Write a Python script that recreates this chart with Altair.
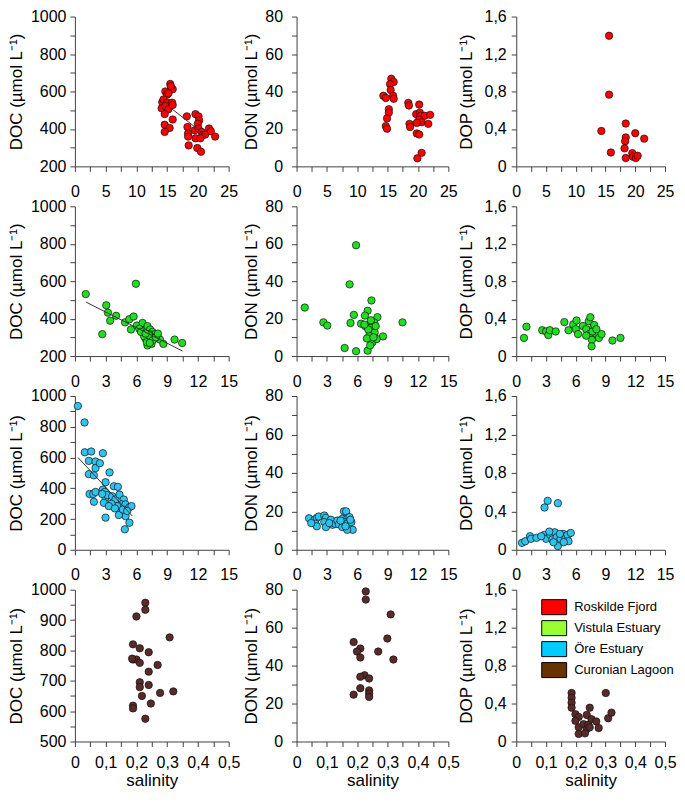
import altair as alt
import pandas as pd

# ---------------- data ----------------
SITES = ["Roskilde Fjord", "Vistula Estuary", "Öre Estuary", "Curonian Lagoon"]
POINT_COLORS = ["#ff0000", "#22dd22", "#2ec4f0", "#5a2a2a"]
LEGEND_COLORS = ["#ff0000", "#99ff33", "#00ccff", "#663300"]

# Roskilde Fjord
rf_doc_sal = [15.5, 15.9, 14.7, 15.0, 14.2, 14.4, 15.0, 15.8, 14.1, 14.7, 15.2, 15.9, 14.6, 15.9, 14.6, 15.4, 14.6, 15.6, 15.2,
              18.2, 19.6, 20.1, 20.2, 20.0, 18.3, 19.5, 20.1, 20.6, 20.8, 21.2, 21.8, 22.1, 22.8, 18.4, 18.4, 18.5, 19.9, 20.5, 19.6, 20.4]
rf_doc = [640, 612, 600, 583, 543, 557, 540, 540, 510, 522, 505, 528, 479, 450, 422, 405, 384, 628, 590,
          467, 479, 467, 445, 428, 410, 393, 402, 384, 367, 370, 402, 388, 359, 376, 359, 312, 298, 278, 350, 350]
rf_fit_sal = [15.3, 21.2]
rf_fit_doc = [519, 367]
rf_don_sal = [15.6, 16.0, 15.4, 15.5, 14.3, 14.7, 15.9, 16.0, 15.2, 15.2, 14.9, 14.7, 14.9, 18.4, 18.5, 20.2, 19.7, 20.3, 20.4, 21.1,
              22.0, 20.2, 20.6, 21.7, 18.6, 18.7, 19.8, 19.8, 20.2, 20.6, 19.9]
rf_don = [46.8, 45.1, 43.9, 40.8, 37.7, 36.5, 37.7, 36.1, 30.5, 28.7, 25.6, 21.5, 20.1, 33.9, 32.5, 33.0, 27.9, 28.7, 27.0, 27.0,
          27.5, 25.0, 23.6, 22.7, 22.7, 21.0, 23.2, 17.6, 17.0, 7.2, 4.3]
rf_dop_sal = [15.6, 15.6, 14.3, 18.4, 20.0, 21.5, 18.4, 18.3, 18.2, 15.9, 19.5, 19.6, 20.1, 20.4, 18.4]
rf_dop = [1.395, 0.766, 0.378, 0.457, 0.354, 0.296, 0.309, 0.268, 0.192, 0.148, 0.141, 0.103, 0.089, 0.113, 0.089]

# Vistula Estuary
ve_doc_sal = [1.06, 5.95, 2.67, 3.06, 3.22, 4.02, 3.44, 4.89, 5.31, 5.73, 5.47, 6.05, 6.60, 6.28, 6.76, 7.08, 7.34, 7.56, 7.79, 8.05,
              8.30, 8.63, 7.08, 7.40, 7.56, 7.79, 6.92, 7.24, 6.76, 9.72, 10.46, 7.02, 7.47, 6.44, 7.2, 7.6, 7.9, 8.1, 7.3, 6.9]
ve_doc = [531, 586, 317, 471, 432, 415, 389, 380, 397, 411, 342, 363, 377, 346, 334, 360, 342, 329, 317, 308,
          288, 265, 257, 277, 300, 294, 291, 317, 305, 288, 270, 274, 265, 329, 312, 285, 300, 320, 270, 320]
ve_fit_sal = [1.1, 10.5]
ve_fit_doc = [488, 227]
ve_don_sal = [0.81, 2.65, 3.04, 5.88, 5.24, 7.40, 5.66, 5.33, 4.75, 5.88, 7.02, 10.47, 8.54, 7.02, 6.76, 7.99, 6.37, 6.79, 7.66, 7.34,
              7.72, 7.18, 7.50, 7.92, 6.95, 7.34, 7.08, 6.70, 7.82, 7.60, 7.27]
ve_don = [25.9, 18.0, 16.3, 59.2, 38.3, 29.7, 22.0, 17.7, 4.3, 2.6, 2.9, 18.0, 10.5, 24.2, 21.6, 20.8, 17.3, 16.0, 18.0, 15.1,
          12.5, 10.8, 7.4, 9.1, 9.4, 19.1, 14.2, 16.8, 16.0, 10.0, 5.7]
ve_dop_sal = [0.78, 1.03, 2.62, 3.01, 3.23, 3.39, 3.98, 4.85, 5.27, 5.75, 6.08, 6.01, 6.23, 6.72, 7.05, 7.31, 7.47, 7.37, 7.76, 8.08,
              7.63, 8.34, 8.60, 7.60, 7.05, 7.69, 7.86, 9.70, 10.51, 8.08]
ve_dop = [0.194, 0.314, 0.276, 0.263, 0.225, 0.276, 0.263, 0.363, 0.276, 0.339, 0.380, 0.287, 0.235, 0.321, 0.287, 0.373, 0.415, 0.235, 0.304, 0.235,
          0.173, 0.194, 0.235, 0.104, 0.218, 0.263, 0.332, 0.166, 0.194, 0.287]

# Öre Estuary
oe_doc_sal = [0.29, 0.94, 0.97, 1.59, 1.36, 2.01, 2.01, 2.44, 2.73, 1.36, 1.85, 3.38, 2.99, 3.80, 4.19, 1.43, 1.79, 2.01, 1.85, 2.73,
              2.92, 2.99, 3.15, 3.64, 3.96, 4.35, 4.77, 4.55, 4.94, 5.32, 5.52, 4.12, 3.57, 2.82, 4.45, 4.94, 5.32, 4.87, 2.99, 3.31,
              3.90, 4.29, 4.68, 5.10, 2.66]
oe_doc = [935, 828, 634, 639, 578, 574, 531, 563, 628, 492, 484, 503, 439, 413, 409, 363, 363, 376, 312, 391,
          376, 338, 355, 348, 327, 359, 327, 295, 295, 277, 284, 284, 299, 305, 241, 219, 176, 133, 209, 284,
          269, 226, 262, 252, 363]
oe_fit_sal = [0.3, 5.6]
oe_fit_doc = [600, 220]
oe_don_sal = [1.23, 1.77, 2.0, 2.19, 1.87, 2.0, 2.74, 2.90, 2.74, 2.90, 3.39, 3.55, 3.81, 4.03, 4.19, 4.52, 4.52, 4.68, 4.90, 5.0,
              4.68, 5.0, 5.16, 5.23, 5.42, 5.55, 5.0, 4.35, 4.84, 5.32, 3.23, 1.45]
oe_don = [16.4, 15.6, 16.6, 17.3, 13.5, 12.2, 17.8, 16.6, 14.4, 11.8, 15.6, 13.0, 13.5, 15.2, 13.2, 16.1, 11.8, 20.0, 20.0, 16.1,
          14.4, 13.5, 11.8, 17.0, 14.4, 10.4, 10.4, 15.2, 12.2, 15.6, 13.9, 13.9]
oe_dop_sal = [0.58, 0.91, 1.39, 1.49, 2.04, 2.85, 3.17, 4.20, 2.85, 3.01, 3.43, 3.65, 3.88, 4.07, 4.20, 4.46, 4.72, 4.95, 5.17, 5.27,
              5.50, 3.33, 2.52, 4.40, 4.79, 3.75]
oe_dop = [0.072, 0.089, 0.141, 0.114, 0.124, 0.440, 0.509, 0.485, 0.155, 0.114, 0.155, 0.107, 0.182, 0.131, 0.038, 0.114, 0.165, 0.114, 0.155, 0.089,
          0.175, 0.189, 0.141, 0.165, 0.079, 0.079]

# Curonian Lagoon
cl_doc_sal = [0.229, 0.229, 0.200, 0.308, 0.189, 0.211, 0.240, 0.189, 0.200, 0.211, 0.269, 0.240, 0.211, 0.211, 0.240, 0.320,
              0.277, 0.218, 0.247, 0.189, 0.189, 0.229, 0.186]
cl_doc = [957, 934, 912, 843, 820, 807, 794, 770, 770, 759, 752, 730, 695, 679, 686, 665, 660, 650, 625, 618, 609, 575, 773]
cl_don_sal = [0.228, 0.228, 0.310, 0.299, 0.188, 0.210, 0.199, 0.269, 0.210, 0.319, 0.224, 0.210, 0.239, 0.210, 0.239, 0.239, 0.188, 0.239]
cl_don = [79.1, 74.8, 67.0, 54.3, 52.4, 49.0, 47.4, 47.4, 44.3, 43.2, 34.9, 34.1, 33.2, 28.1, 26.9, 25.2, 24.7, 23.5]
cl_dop_sal = [0.186, 0.186, 0.186, 0.186, 0.301, 0.247, 0.199, 0.210, 0.199, 0.237, 0.253, 0.269, 0.309, 0.320, 0.210, 0.210,
              0.226, 0.237, 0.242, 0.277, 0.231, 0.247]
cl_dop = [0.511, 0.460, 0.408, 0.356, 0.511, 0.356, 0.287, 0.259, 0.218, 0.280, 0.235, 0.211, 0.245, 0.304, 0.149, 0.080,
          0.183, 0.131, 0.176, 0.142, 0.086, 0.149]

# ---------------- styling helpers ----------------
FONT = "Liberation Sans"
COL_WIDTHS = [154, 152, 149]


def ticks(lo, hi, step):
    n = int(round((hi - lo) / step))
    return [round(lo + i * step, 6) for i in range(n + 1)]


def label_expr(major, decimal):
    cond = f"abs(datum.value / {major} - round(datum.value / {major})) < 0.001"
    if decimal:
        lab = "datum.value == 0 ? '0' : replace(format(datum.value, '.1f'), '.', ',')"
    else:
        lab = "format(datum.value, 'd')"
    return f"{cond} ? ({lab}) : ''"


XCFG = {
    "r1": dict(domain=[0, 25], step=2.5, major=5, dec=False),
    "r23": dict(domain=[0, 15], step=1.5, major=3, dec=False),
    "r4": dict(domain=[0, 0.5], step=0.05, major=0.1, dec=True),
}
YCFG = {
    "doc1": dict(domain=[200, 1000], step=100, major=200, dec=False),
    "doc3": dict(domain=[0, 1000], step=100, major=200, dec=False),
    "doc4": dict(domain=[500, 1000], step=50, major=100, dec=False),
    "don": dict(domain=[0, 80], step=10, major=20, dec=False),
    "dop": dict(domain=[0, 1.6], step=0.2, major=0.4, dec=True),
}
COLS = [
    dict(name="DOC", labelPadding=4, titleX=-49),
    dict(name="DON", labelPadding=9, titleX=-36),
    dict(name="DOP", labelPadding=5, titleX=-41),
]


def make_axis(cfg, **kw):
    vals = ticks(cfg["domain"][0], cfg["domain"][1], cfg["step"])
    return alt.Axis(
        values=vals,
        tickCount=len(vals),
        labelExpr=label_expr(cfg["major"], cfg["dec"]),
        labelOverlap=False,
        labelFlush=False,
        **kw,
    )


def panel(sal, val, color, xc, yc, col, width, height, xtitle=None, fit=None, legend=False, xlabpad=12):
    df = pd.DataFrame({"salinity": sal, "value": val})
    xs = alt.X(
        "salinity:Q",
        scale=alt.Scale(domain=xc["domain"], nice=False, zero=False),
        axis=make_axis(xc, title=xtitle, labelPadding=xlabpad, titlePadding=2),
    )
    ys = alt.Y(
        "value:Q",
        scale=alt.Scale(domain=yc["domain"], nice=False, zero=False),
        axis=make_axis(
            yc,
            title=f"{col['name']} (µmol L⁻¹)",
            labelPadding=col["labelPadding"],
            titleX=col["titleX"],
        ),
    )
    pts = alt.Chart(df).mark_circle(
        color=color, size=55, opacity=1, stroke="#111111", strokeWidth=0.7
    ).encode(x=xs, y=ys)
    layers = [pts]
    if fit is not None:
        fdf = pd.DataFrame({"salinity": fit[0], "value": fit[1]})
        layers.append(
            alt.Chart(fdf).mark_line(color="#333333", strokeWidth=1).encode(x="salinity:Q", y="value:Q")
        )
    if legend:
        ldf = pd.DataFrame({"site": SITES})
        layers.append(
            alt.Chart(ldf)
            .transform_filter("false")
            .mark_square(opacity=1)
            .encode(
                fill=alt.Fill(
                    "site:N",
                    sort=SITES,
                    scale=alt.Scale(domain=SITES, range=LEGEND_COLORS),
                    legend=alt.Legend(
                        title=None,
                        orient="none",
                        legendX=471.5,
                        legendY=583,
                        padding=0,
                        symbolType="M-1.56,-0.94H1.56V0.94H-1.56Z",
                        symbolSize=256,
                        symbolStrokeColor="black",
                        symbolStrokeWidth=1,
                        symbolOpacity=1,
                        labelFont=FONT,
                        labelFontSize=13,
                        labelColor="black",
                        labelOffset=11.5,
                        rowPadding=0,
                    ),
                )
            )
        )
    return alt.layer(*layers).properties(width=width, height=height)


def row(sals, vals, color, xkey, ykeys, height, xtitle=None, fit=None, legend=False, xlabpad=12):
    ps = []
    for i in range(3):
        ps.append(
            panel(
                sals[i], vals[i], color, XCFG[xkey], YCFG[ykeys[i]], COLS[i], COL_WIDTHS[i], height,
                xtitle=xtitle, fit=fit if i == 0 else None, legend=(legend and i == 2), xlabpad=xlabpad,
            )
        )
    return ps


row1 = row([rf_doc_sal, rf_don_sal, rf_dop_sal], [rf_doc, rf_don, rf_dop], POINT_COLORS[0], "r1",
           ["doc1", "don", "dop"], 150, fit=(rf_fit_sal, rf_fit_doc))
row2 = row([ve_doc_sal, ve_don_sal, ve_dop_sal], [ve_doc, ve_don, ve_dop], POINT_COLORS[1], "r23",
           ["doc1", "don", "dop"], 150, fit=(ve_fit_sal, ve_fit_doc))
row3 = row([oe_doc_sal, oe_don_sal, oe_dop_sal], [oe_doc, oe_don, oe_dop], POINT_COLORS[2], "r23",
           ["doc3", "don", "dop"], 154, fit=(oe_fit_sal, oe_fit_doc))
row4 = row([cl_doc_sal, cl_don_sal, cl_dop_sal], [cl_doc, cl_don, cl_dop], POINT_COLORS[3], "r4",
           ["doc4", "don", "dop"], 152, xtitle="salinity", legend=True, xlabpad=8)

chart = (
    alt.concat(
        *(row1 + row2 + row3 + row4),
        columns=3,
        spacing={"row": 40, "column": 68},
        bounds="flush",
        padding=0,
    )
    .configure_view(stroke=None)
    .configure_axis(
        labelFont=FONT,
        labelFontSize=16,
        labelColor="black",
        titleFont=FONT,
        titleFontSize=17,
        titleFontWeight="normal",
        titleColor="black",
        domainColor="#404040",
        tickColor="#404040",
        domainWidth=1,
        tickWidth=1,
        tickSize=5,
        grid=False,
    )
)

chart.save("out.html", embed_options={"renderer": "svg", "actions": False})
